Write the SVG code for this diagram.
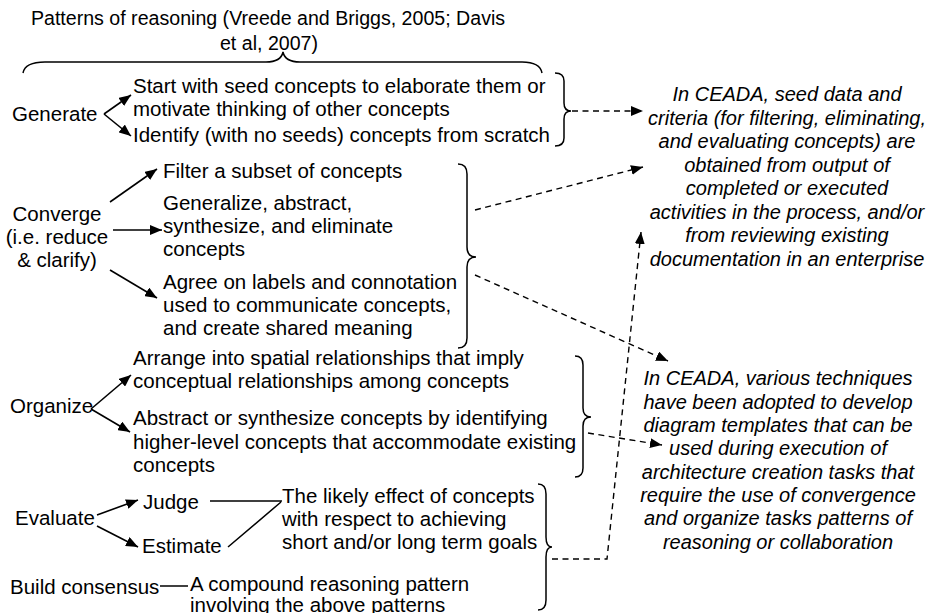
<svg xmlns="http://www.w3.org/2000/svg" width="936" height="613" viewBox="0 0 936 613">
  <defs>
    <marker id="head" markerUnits="userSpaceOnUse" markerWidth="13" markerHeight="10" refX="12" refY="5" orient="auto">
      <path d="M0,0 L12,5 L0,10 z" fill="#000"/>
    </marker>
    <style>
      text { font-family: "Liberation Sans", Arial, sans-serif; font-size: 20.5px; fill: #000; }
      #heading text { font-size: 19.6px; }
      .note text { font-style: italic; font-size: 20px; text-anchor: middle; }
      .mid { text-anchor: middle; }
      .brace { fill: none; stroke: #000; stroke-width: 1.5; }
      .arrow { fill: none; stroke: #000; stroke-width: 1.6; marker-end: url(#head); }
      .line { fill: none; stroke: #000; stroke-width: 1.5; }
      .dash { fill: none; stroke: #000; stroke-width: 1.4; stroke-dasharray: 6 4.5; }
      .dash.tip { marker-end: url(#head); }
    </style>
  </defs>

  <rect width="936" height="613" fill="#fff"/>

  <!-- heading and the brace spanning all patterns -->
  <g id="heading">
    <text class="mid" x="268" y="25">Patterns of reasoning (Vreede and Briggs, 2005; Davis</text>
    <text class="mid" x="269" y="50">et al, 2007)</text>
    <path class="brace" d="M23,73 Q25,62 45,62 L266,62 Q281,62 283,52 Q285,62 300,62 L522,62 Q540,62 542,73"/>
  </g>

  <!-- Generate -->
  <g id="generate">
    <text x="12" y="121">Generate</text>
    <path class="arrow" d="M104,114 L131,95"/>
    <path class="arrow" d="M104,114 L131,136"/>
    <text x="133" y="93">Start with seed concepts to elaborate them or</text>
    <text x="133" y="116">motivate thinking of other concepts</text>
    <text x="133" y="142">Identify (with no seeds) concepts from scratch</text>
    <path class="brace" d="M555,73 Q564,73 564,81 L564,103 Q564,111 571,111 Q564,111 564,119 L564,138 Q564,146 555,146"/>
  </g>

  <!-- Converge -->
  <g id="converge">
    <text class="mid" x="57" y="221">Converge</text>
    <text class="mid" x="57" y="244">(i.e. reduce</text>
    <text class="mid" x="57" y="267">&amp; clarify)</text>
    <path class="arrow" d="M110,202 L157,169"/>
    <path class="arrow" d="M113,230 L162,230"/>
    <path class="arrow" d="M110,270 L157,298"/>
    <text x="163" y="178">Filter a subset of concepts</text>
    <text x="163" y="210">Generalize, abstract,</text>
    <text x="163" y="233">synthesize, and eliminate</text>
    <text x="163" y="256">concepts</text>
    <text x="163" y="289">Agree on labels and connotation</text>
    <text x="163" y="312">used to communicate concepts,</text>
    <text x="163" y="335">and create shared meaning</text>
    <path class="brace" d="M458,164 Q467,164 467,174 L467,247 Q467,257 476,257 Q467,257 467,267 L467,338 Q467,348 458,348"/>
  </g>

  <!-- Organize -->
  <g id="organize">
    <text x="10" y="413">Organize</text>
    <path class="arrow" d="M91,409 L131,375"/>
    <path class="arrow" d="M91,409 L130,432"/>
    <text x="133" y="365">Arrange into spatial relationships that imply</text>
    <text x="133" y="388">conceptual relationships among concepts</text>
    <text x="133" y="425">Abstract or synthesize concepts by identifying</text>
    <text x="133" y="449">higher-level concepts that accommodate existing</text>
    <text x="133" y="472">concepts</text>
    <path class="brace" d="M575,356 Q583,356 583,365 L583,408 Q583,417 591,417 Q583,417 583,426 L583,468 Q583,477 575,477"/>
  </g>

  <!-- Evaluate -->
  <g id="evaluate">
    <text x="15" y="525">Evaluate</text>
    <path class="arrow" d="M97,515 L138,500"/>
    <path class="arrow" d="M97,526 L138,547"/>
    <text x="143" y="509">Judge</text>
    <text x="142" y="553">Estimate</text>
    <path class="line" d="M210,501 L282,501 M228,547 L281,502"/>
    <text x="282" y="503">The likely effect of concepts</text>
    <text x="282" y="526">with respect to achieving</text>
    <text x="282" y="549">short and/or long term goals</text>
  </g>

  <!-- Build consensus -->
  <g id="build-consensus">
    <text x="10" y="594">Build consensus</text>
    <path class="line" d="M160,586 L188,586"/>
    <text x="190" y="591">A compound reasoning pattern</text>
    <text x="190" y="612">involving the above patterns</text>
  </g>

  <!-- brace grouping Evaluate and Build consensus -->
  <g id="evaluate-brace">
    <path class="brace" d="M538,484 Q546,484 546,494 L546,537 Q546,547 552,547 Q546,547 546,557 L546,600 Q546,610 538,610"/>
  </g>

  <!-- notes on the right -->
  <g id="note-seed-data" class="note">
    <text x="787" y="101">In CEADA, seed data and</text>
    <text x="787" y="124.5">criteria (for filtering, eliminating,</text>
    <text x="787" y="148">and evaluating concepts) are</text>
    <text x="787" y="171.5">obtained from output of</text>
    <text x="787" y="195">completed or executed</text>
    <text x="787" y="218.5">activities in the process, and/or</text>
    <text x="787" y="242">from reviewing existing</text>
    <text x="787" y="265.5">documentation in an enterprise</text>
  </g>

  <g id="note-techniques" class="note">
    <text x="778" y="385">In CEADA, various techniques</text>
    <text x="778" y="408.5">have been adopted to develop</text>
    <text x="778" y="432">diagram templates that can be</text>
    <text x="778" y="455">used during execution of</text>
    <text x="778" y="478.5">architecture creation tasks that</text>
    <text x="778" y="502">require the use of convergence</text>
    <text x="778" y="525">and organize tasks patterns of</text>
    <text x="778" y="548.5">reasoning or collaboration</text>
  </g>

  <!-- dashed connectors from the braces to the notes -->
  <g id="connectors">
    <path class="dash tip" d="M572,111 L643,111"/>
    <path class="dash tip" d="M475,210 L643,167"/>
    <path class="dash tip" d="M475,275 L668,361"/>
    <path class="dash tip" d="M588,433 L662,445"/>
    <path class="dash tip" d="M552,559 L607,559 L641,232"/>
  </g>
</svg>
